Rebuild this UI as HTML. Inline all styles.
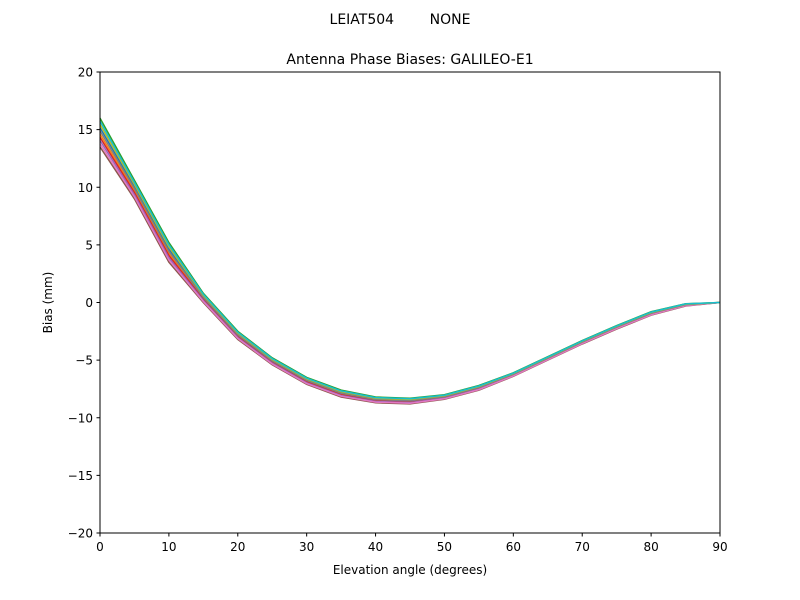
<!DOCTYPE html>
<html><head><meta charset="utf-8"><style>
body{margin:0;background:#fff}
svg{display:block;font-family:"DejaVu Sans","Liberation Sans",sans-serif}
</style></head><body>
<svg id="s" width="800" height="600" xmlns="http://www.w3.org/2000/svg">
<rect width="800" height="600" fill="#fff"/>
<text x="400" y="24" font-size="14" text-anchor="middle" xml:space="preserve">LEIAT504        NONE</text>
<text x="410" y="64" font-size="14" text-anchor="middle">Antenna Phase Biases: GALILEO-E1</text>
<g id="lines"></g>
<rect x="100" y="72" width="620" height="461" fill="none" stroke="#000" stroke-width="1"/>
<g id="ticks" font-size="12"></g>
<text x="410" y="574" font-size="12" text-anchor="middle">Elevation angle (degrees)</text>
<text transform="translate(52,302.5) rotate(-90)" font-size="12" text-anchor="middle">Bias (mm)</text>
</svg>
<script>
var X=function(v){return 100+v*620/90},Y=function(v){return 302.5-v*461/40};
var lo=[13.5,9.0,3.5,0.0,-3.2,-5.4,-7.1,-8.2,-8.7,-8.8,-8.4,-7.6,-6.4,-5.0,-3.6,-2.3,-1.1,-0.3,0];
var hi=[16.0,10.6,5.2,0.8,-2.5,-4.8,-6.5,-7.6,-8.2,-8.3,-8.0,-7.2,-6.1,-4.7,-3.3,-2.0,-0.8,-0.1,0];
var cols=["#1f77b4","#ff7f0e","#2ca02c","#d62728","#9467bd","#8c564b","#e377c2","#7f7f7f","#bcbd22","#17becf"];
var order=[6,4,9,3,2,0,1,5,7,8];
var g=document.getElementById("lines"),h="";
for(var k=0;k<10;k++){var t=order[k]/9,p=[];
for(var i=0;i<19;i++){p.push(X(i*5).toFixed(1)+","+Y(lo[i]+(hi[i]-lo[i])*t).toFixed(1));}
h+='<polyline fill="none" stroke-width="1.5" stroke="'+cols[k]+'" points="'+p.join(" ")+'"/>';}
g.innerHTML=h;
var tk="";
for(var v=0;v<=90;v+=10){var x=X(v);tk+='<line x1="'+x+'" x2="'+x+'" y1="533" y2="536.5" stroke="#000"/><text x="'+x+'" y="551" text-anchor="middle">'+v+'</text>';}
for(var v=-20;v<=20;v+=5){var y=Y(v);tk+='<line x1="96.5" x2="100" y1="'+y+'" y2="'+y+'" stroke="#000"/><text x="93" y="'+(y+4.5)+'" text-anchor="end">'+(v<0?"\u2212"+(-v):v)+'</text>';}
document.getElementById("ticks").innerHTML=tk;
</script>
</body></html>
